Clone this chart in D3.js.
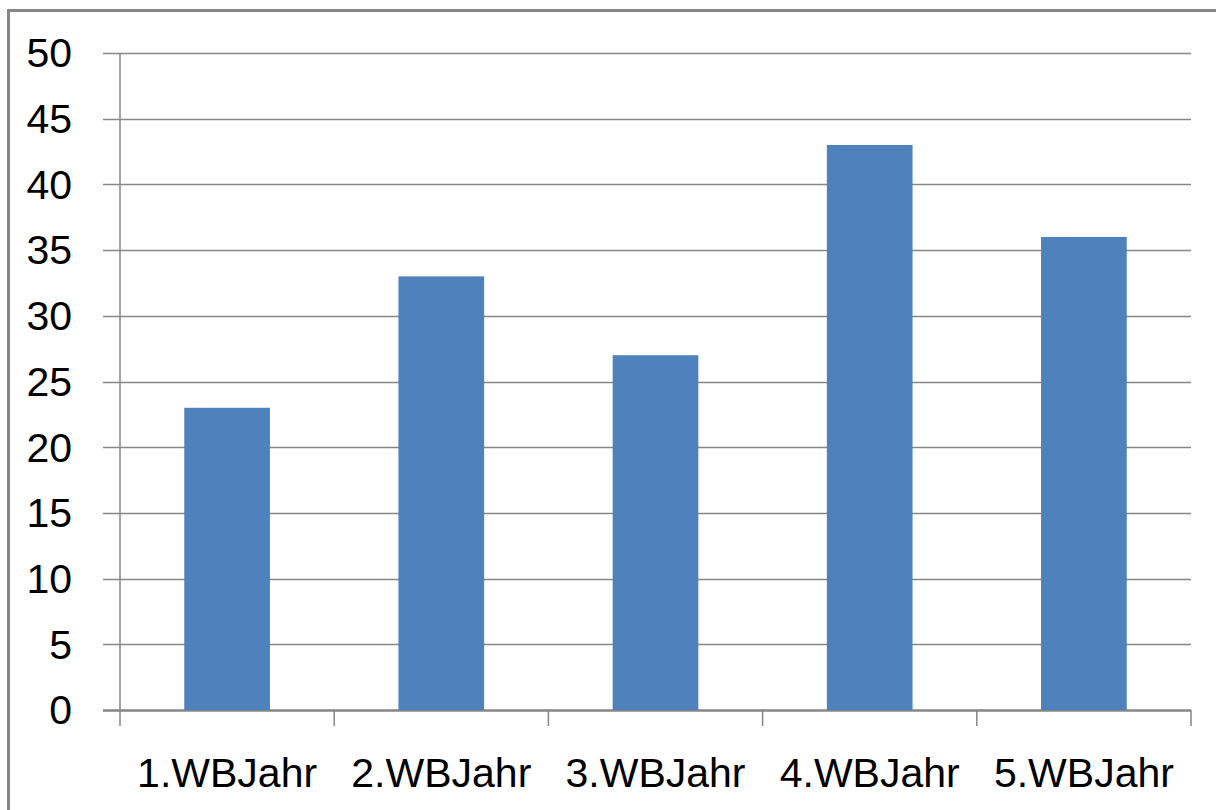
<!DOCTYPE html>
<html>
<head>
<meta charset="utf-8">
<script src="https://cdn.jsdelivr.net/npm/d3@7"></script>
<style>
  html, body { margin: 0; padding: 0; background: #fff; }
  svg { display: block; }
  text { font-family: "Liberation Sans", Arial, sans-serif; fill: #000; }
</style>
</head>
<body>
<div id="chart"></div>
<script>
var categories = ["1.WBJahr", "2.WBJahr", "3.WBJahr", "4.WBJahr", "5.WBJahr"];
var values = [23, 33, 27, 43, 36];
var yTicks = [0, 5, 10, 15, 20, 25, 30, 35, 40, 45, 50];

var width = 1216, height = 810;
var plotLeft = 120, plotRight = 1191, plotTop = 53, plotBottom = 710;
var grey = "#868686";

var svg = d3.select("#chart").append("svg")
    .attr("width", width)
    .attr("height", height);

// chart frame (only top and left edges show in the picture)
svg.append("path")
    .attr("d", "M8.5," + height + "V10.5H" + width)
    .attr("fill", "none")
    .attr("stroke", grey)
    .attr("stroke-width", 3);

var x = d3.scaleBand()
    .domain(categories)
    .range([plotLeft, plotRight])
    .padding(0);

var y = d3.scaleLinear()
    .domain([0, 50])
    .range([plotBottom, plotTop]);

// horizontal gridlines + left ticks
svg.append("g").selectAll("line")
    .data(yTicks)
    .enter().append("line")
    .attr("x1", plotLeft - 17)
    .attr("x2", plotRight)
    .attr("y1", function(d) { return Math.round(y(d)) + 0.5; })
    .attr("y2", function(d) { return Math.round(y(d)) + 0.5; })
    .attr("stroke", grey)
    .attr("stroke-width", function(d) { return d === 0 ? 2.5 : 1.5; });

// y axis line
svg.append("line")
    .attr("x1", plotLeft).attr("x2", plotLeft)
    .attr("y1", y(50)).attr("y2", plotBottom)
    .attr("stroke", grey)
    .attr("stroke-width", 1.5);

// category boundary ticks
var bounds = categories.map(function(c) { return x(c); }).concat([plotRight]);
svg.append("g").selectAll("line")
    .data(bounds)
    .enter().append("line")
    .attr("x1", function(d) { return d; })
    .attr("x2", function(d) { return d; })
    .attr("y1", plotBottom)
    .attr("y2", plotBottom + 16)
    .attr("stroke", grey)
    .attr("stroke-width", 1.5);

// bars
var barW = x.bandwidth() * 0.4;
svg.append("g").selectAll("rect")
    .data(values)
    .enter().append("rect")
    .attr("x", function(d, i) { return x(categories[i]) + (x.bandwidth() - barW) / 2; })
    .attr("y", function(d) { return y(d); })
    .attr("width", barW)
    .attr("height", function(d) { return plotBottom - y(d); })
    .attr("fill", "#4F81BD");

// y labels
svg.append("g").selectAll("text")
    .data(yTicks)
    .enter().append("text")
    .attr("x", 72)
    .attr("y", function(d) { return y(d); })
    .attr("dy", "0.35em")
    .attr("text-anchor", "end")
    .style("font-size", "41px")
    .text(function(d) { return d; });

// x labels
svg.append("g").selectAll("text")
    .data(categories)
    .enter().append("text")
    .attr("x", function(d) { return x(d) + x.bandwidth() / 2; })
    .attr("y", 787)
    .attr("text-anchor", "middle")
    .style("font-size", "41px")
    .text(function(d) { return d; });
</script>
</body>
</html>
